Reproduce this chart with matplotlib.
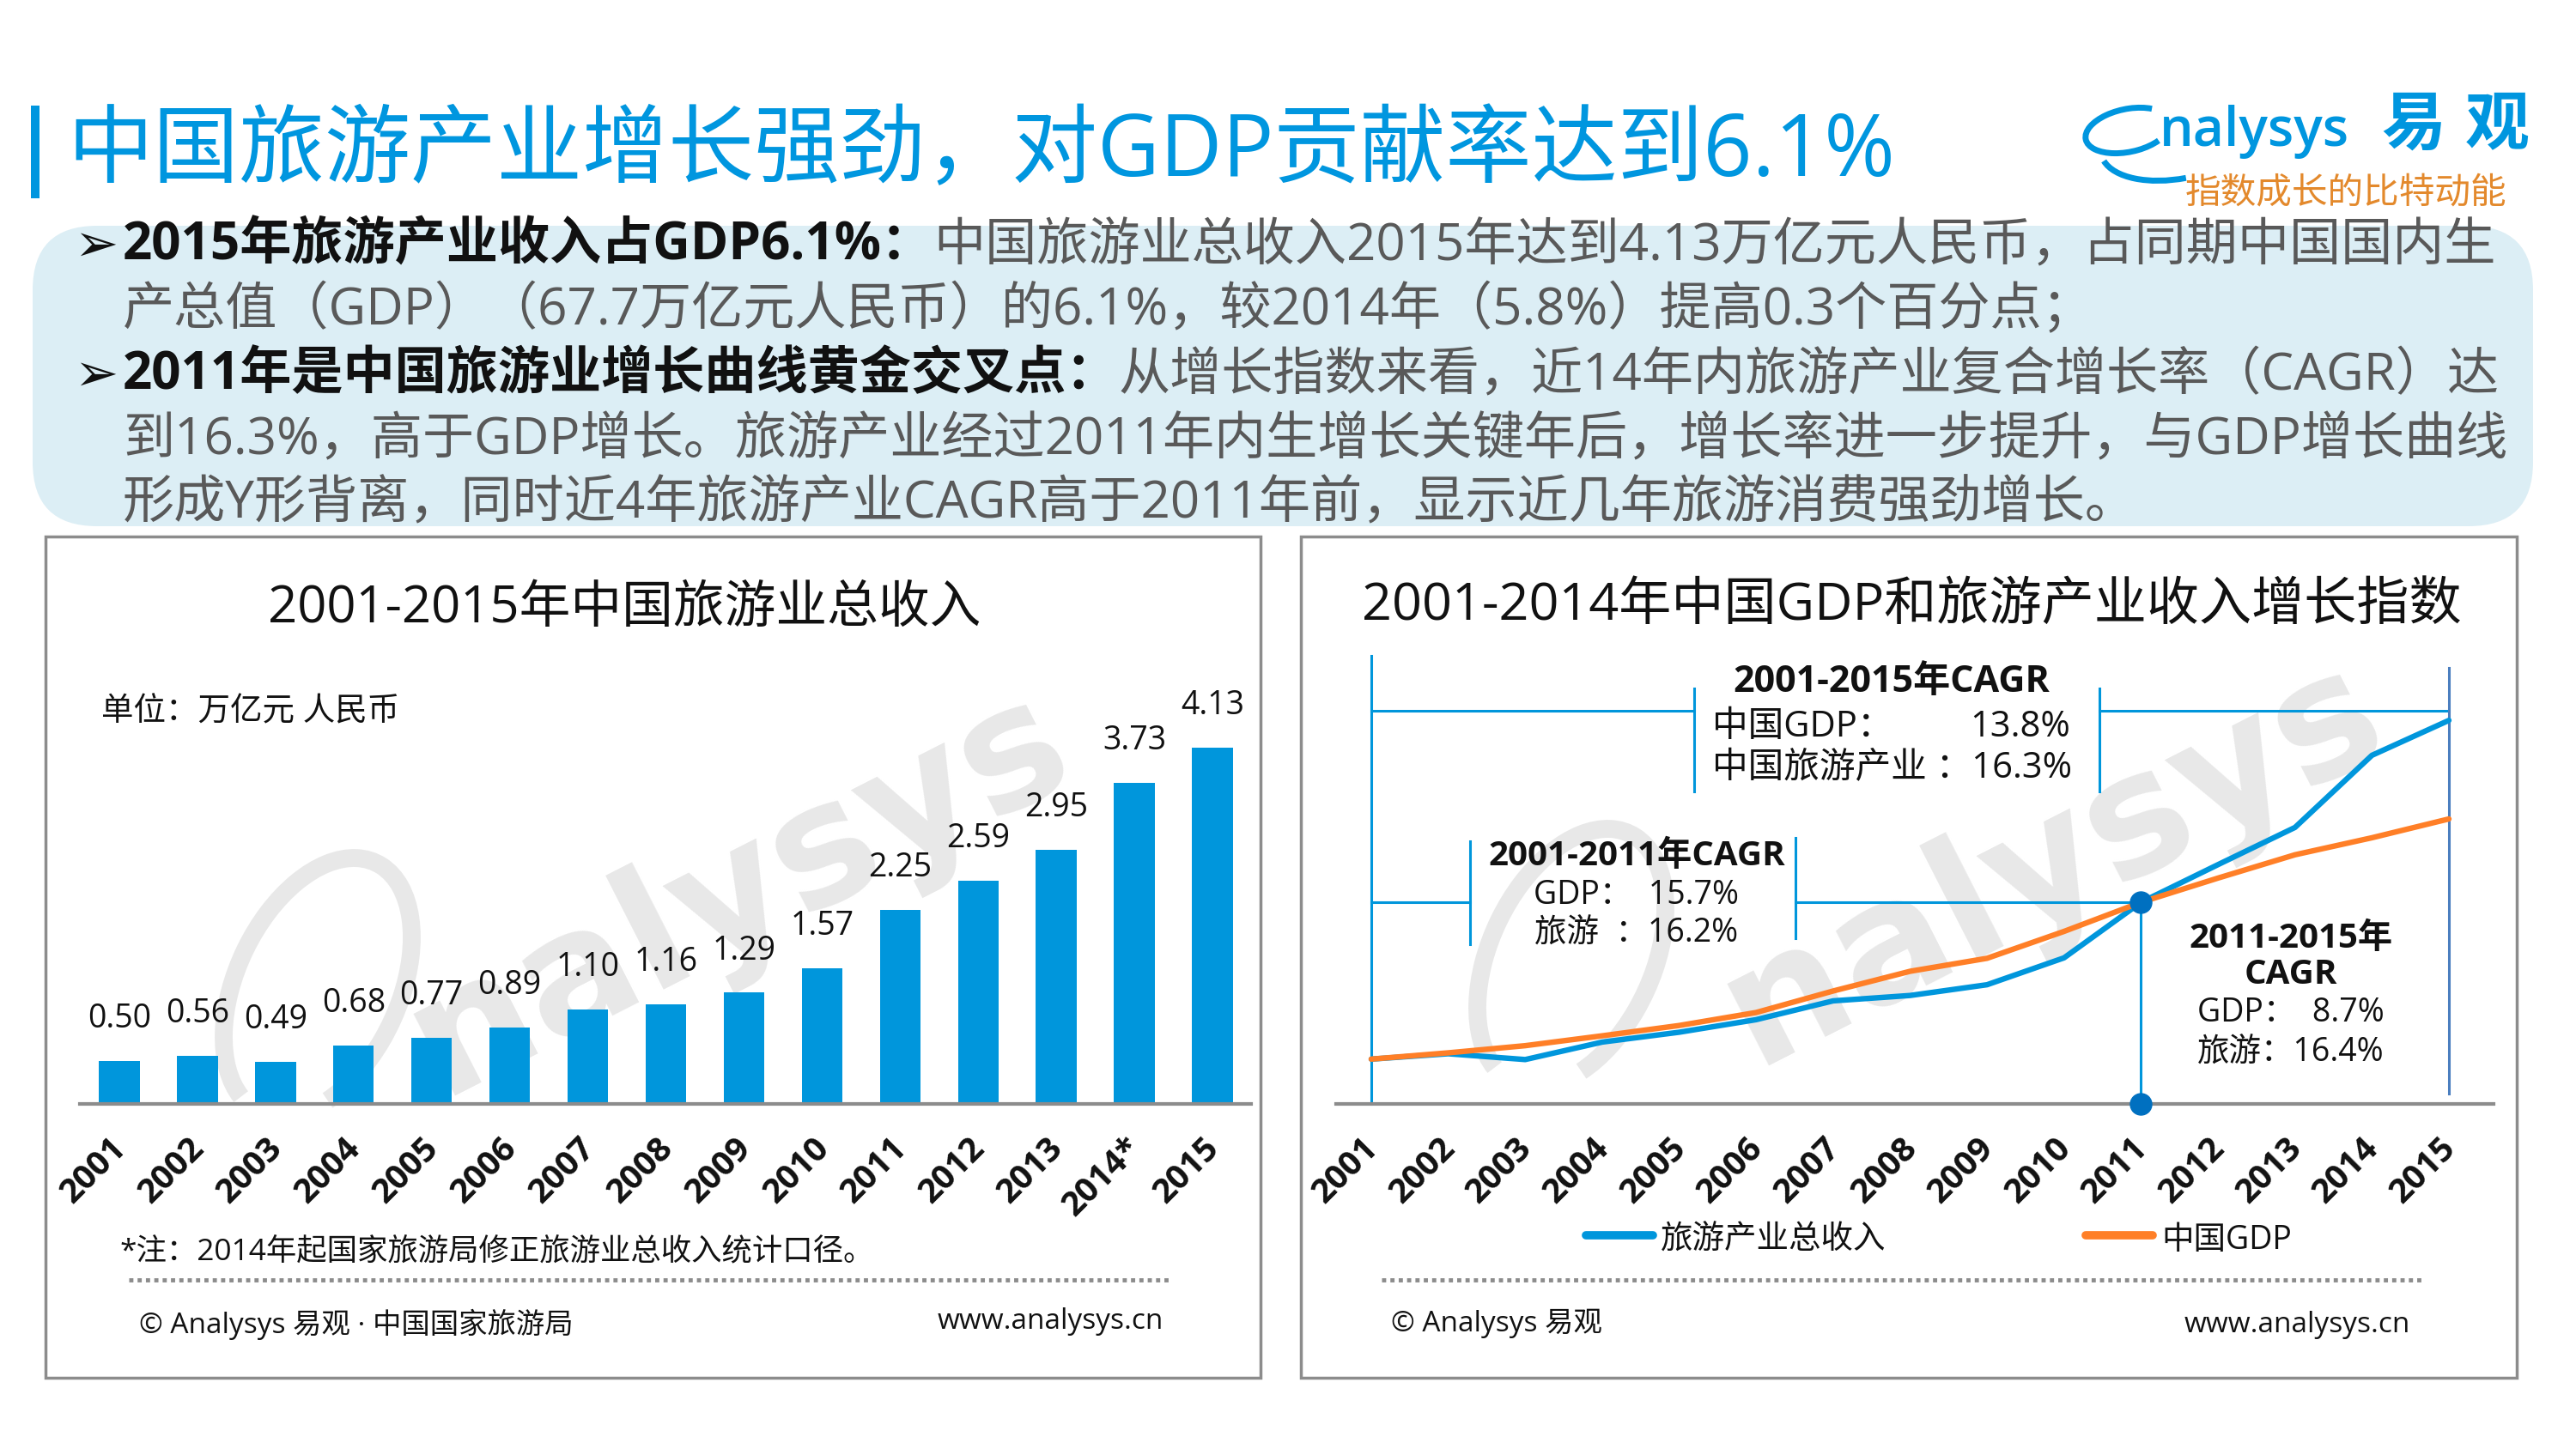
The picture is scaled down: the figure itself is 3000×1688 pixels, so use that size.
import matplotlib
matplotlib.use('Agg')
import matplotlib.pyplot as plt
from matplotlib import font_manager
from matplotlib.patches import FancyBboxPatch, Arc, Rectangle
from matplotlib.lines import Line2D
from matplotlib.transforms import ScaledTranslation

# ---------------- data ----------------
bar_years = ['2001', '2002', '2003', '2004', '2005', '2006', '2007', '2008',
             '2009', '2010', '2011', '2012', '2013', '2014*', '2015']
revenue = [0.50, 0.56, 0.49, 0.68, 0.77, 0.89, 1.10, 1.16, 1.29, 1.57,
           2.25, 2.59, 2.95, 3.73, 4.13]
revenue_labels = ['0.50', '0.56', '0.49', '0.68', '0.77', '0.89', '1.10', '1.16',
                  '1.29', '1.57', '2.25', '2.59', '2.95', '3.73', '4.13']

idx_years = [2001, 2002, 2003, 2004, 2005, 2006, 2007, 2008,
             2009, 2010, 2011, 2012, 2013, 2014, 2015]
idx_labels = [str(y) for y in idx_years]
tourism_idx = [1.00, 1.12, 0.99, 1.38, 1.60, 1.88, 2.30, 2.42, 2.66, 3.26,
               4.50, 5.34, 6.17, 7.78, 8.56]
gdp_idx = [1.00, 1.14, 1.30, 1.52, 1.75, 2.04, 2.52, 2.96, 3.25, 3.85,
           4.50, 5.04, 5.56, 5.94, 6.36]

series_names = ['旅游产业总收入', '中国GDP']

# ---------------- style ----------------
W, H = 3000, 1688
BLUE = '#0096DC'
ORANGE = '#FF7F27'
GRAY = '#8C8C8C'
DARK = '#111111'
BODY = '#595959'
LATIN_CJK = ['Open Sans', 'Noto Sans CJK SC', 'DejaVu Sans']
plt.rcParams['font.family'] = LATIN_CJK

_names = {f.name for f in font_manager.fontManager.ttflist}
WM_FONT = 'DejaVu Sans'
for cand in ['Liberation Sans Narrow', 'DejaVu Sans Condensed']:
    if cand in _names:
        WM_FONT = cand
        break

fig = plt.figure(figsize=(30, 16.88), dpi=100)
bg = fig.add_axes([0, 0, 1, 1])
bg.set_xlim(0, W)
bg.set_ylim(H, 0)
bg.axis('off')

# ---------------- title ----------------
bg.add_patch(Rectangle((36, 123), 10, 108, color='#0096DF', lw=0))
bg.text(78, 179, '中国旅游产业增长强劲，对GDP贡献率达到6.1%', fontsize=72,
        color='#0096DF', va='center', ha='left')

# ---------------- logo ----------------
bg.add_patch(Arc((2478, 152), 100, 50, angle=-12, theta1=30, theta2=330,
                 color='#0096DF', lw=5))
bg.add_patch(Arc((2540, 160), 190, 95, angle=-12, theta1=95, theta2=175,
                 color='#0096DF', lw=5))
bg.text(2515, 170, 'nalysys', fontsize=45, color='#0096DF', fontweight='semibold',
        ha='left', va='baseline')
bg.text(2773, 148, '易', fontsize=54, color='#0096DF', fontweight='heavy',
        ha='left', va='center')
bg.text(2871, 148, '观', fontsize=54, color='#0096DF', fontweight='heavy',
        ha='left', va='center')
bg.text(2545, 225, '指数成长的比特动能', fontsize=30, color='#E3892C',
        ha='left', va='center')

# ---------------- text box ----------------
bg.add_patch(FancyBboxPatch((38, 263), 2912, 350,
                            boxstyle='round,pad=0,rounding_size=75',
                            fc='#DCEEF5', ec='none'))
BFS = 43.3
renderer = fig.canvas.get_renderer()
lines = [
    (287, '2015年旅游产业收入占GDP6.1%：', '中国旅游业总收入2015年达到4.13万亿元人民币，占同期中国国内生', True),
    (362, '', '产总值（GDP）（67.7万亿元人民币）的6.1%，较2014年（5.8%）提高0.3个百分点；', False),
    (438, '2011年是中国旅游业增长曲线黄金交叉点：', '从增长指数来看，近14年内旅游产业复合增长率（CAGR）达', True),
    (513, '', '到16.3%，高于GDP增长。旅游产业经过2011年内生增长关键年后，增长率进一步提升，与GDP增长曲线', False),
    (587, '', '形成Y形背离，同时近4年旅游产业CAGR高于2011年前，显示近几年旅游消费强劲增长。', False),
]
for y, bold, reg, bullet in lines:
    x = 143
    if bullet:
        bg.text(86, y, '➢', fontsize=44, color=DARK, va='center', ha='left',
                family=['DejaVu Sans'])
    if bold:
        t = bg.text(x, y, bold, fontsize=BFS, fontweight='bold', color=DARK,
                    va='center', ha='left')
        bb = t.get_window_extent(renderer)
        x = bb.x1
    bg.text(x, y, reg, fontsize=BFS, color=BODY, va='center', ha='left')

# ---------------- panels ----------------
for (x0, x1) in [(53, 1468), (1515, 2931)]:
    bg.add_patch(Rectangle((x0, 625), x1 - x0, 980, fc='none', ec=GRAY, lw=2.5))

# watermarks
WM = '#E8E8E8'
for (cx, cy, ex, ey) in [(860, 1040, 370, 1150), (2390, 1005, 1830, 1116)]:
    bg.text(cx, cy, 'nalysys', fontsize=142, color=WM, rotation=27,
            ha='center', va='center', fontweight='bold', family=[WM_FONT],
            zorder=0.5)
    bg.add_patch(Arc((ex, ey), 320, 190, angle=-65, theta1=190, theta2=510,
                     color=WM, lw=15, zorder=0.5))

# panel texts (left)
bg.text(727, 709, '2001-2015年中国旅游业总收入', fontsize=43, color=DARK,
        ha='center', va='center')
bg.text(118, 829, '单位：万亿元 人民币', fontsize=27, color=DARK, ha='left', va='center')
bg.text(139, 1459, '*注：2014年起国家旅游局修正旅游业总收入统计口径。', fontsize=25.5,
        color=DARK, ha='left', va='center')
bg.add_line(Line2D([150, 1362], [1490.5, 1490.5], color=GRAY, lw=3.5,
                   linestyle=(0, (1, 1))))
bg.text(162, 1543, '© Analysys 易观 · 中国国家旅游局', fontsize=24, color=DARK,
        ha='left', va='center')
bg.text(1355, 1540, 'www.analysys.cn', fontsize=24, color=DARK, ha='right', va='center')

# panel texts (right)
bg.text(2226, 706, '2001-2014年中国GDP和旅游产业收入增长指数', fontsize=44, color=DARK,
        ha='center', va='center')
bg.add_line(Line2D([1609, 2821], [1490.5, 1490.5], color=GRAY, lw=3.5,
                   linestyle=(0, (1, 1))))
bg.text(1620, 1542, '© Analysys 易观', fontsize=24, color=DARK, ha='left', va='center')
bg.text(2807, 1543, 'www.analysys.cn', fontsize=24, color=DARK, ha='right', va='center')

# legend
bg.add_line(Line2D([1847, 1925], [1439, 1439], color=BLUE, lw=7, solid_capstyle='round'))
bg.text(1934, 1445, series_names[0], fontsize=27, color=DARK, ha='left', va='center')
bg.add_line(Line2D([2429, 2507], [1439, 1439], color=ORANGE, lw=7, solid_capstyle='round'))
bg.text(2517, 1445, series_names[1], fontsize=27, color=DARK, ha='left', va='center')

# CAGR annotations (text)
bg.text(2203, 795, '2001-2015年CAGR', fontsize=31, fontweight='bold', color=DARK,
        ha='center', va='center')
bg.text(1994, 847, '中国GDP：', fontsize=30, color=DARK, ha='left', va='center')
bg.text(2411, 847, '13.8%', fontsize=30, color=DARK, ha='right', va='center')
bg.text(1994, 895, '中国旅游产业 ：16.3%', fontsize=30, color=DARK, ha='left', va='center')

bg.text(1906, 998, '2001-2011年CAGR', fontsize=29, fontweight='bold', color=DARK,
        ha='center', va='center')
bg.text(1905, 1043, 'GDP：  15.7%', fontsize=27, color=DARK, ha='center', va='center')
bg.text(1906, 1088, '旅游  ：16.2%', fontsize=27, color=DARK, ha='center', va='center')

bg.text(2668, 1093, '2011-2015年', fontsize=29, fontweight='bold', color=DARK,
        ha='center', va='center')
bg.text(2668, 1136, 'CAGR', fontsize=29, fontweight='bold', color=DARK,
        ha='center', va='center')
bg.text(2668, 1180, 'GDP：  8.7%', fontsize=27, color=DARK, ha='center', va='center')
bg.text(2668, 1227, '旅游：16.4%', fontsize=27, color=DARK, ha='center', va='center')


def style_xaxis(ax, labels, dx_px=2):
    for s in ['top', 'left', 'right']:
        ax.spines[s].set_visible(False)
    ax.spines['bottom'].set_color(GRAY)
    ax.spines['bottom'].set_linewidth(3)
    ax.set_yticks([])
    ax.tick_params(axis='x', length=0, pad=33)
    ax.set_facecolor('none')
    ax.set_xticklabels(labels, rotation=45, ha='right', va='center',
                       rotation_mode='anchor', fontsize=28.5, fontweight='bold',
                       color=DARK)
    off = ScaledTranslation(dx_px / 100, 0, fig.dpi_scale_trans)
    for lab in ax.get_xticklabels():
        lab.set_transform(lab.get_transform() + off)


# ---------------- left chart ----------------
ax1 = fig.add_axes([93 / W, (H - 1286) / H, 1364 / W, 461.8 / H])
xpos = list(range(len(bar_years)))
ax1.bar(xpos, revenue, width=0.52, color=BLUE, zorder=2)
ax1.set_xlim(-0.506, 14.495)
ax1.set_ylim(0, 4.6)
ax1.set_xticks(xpos)
style_xaxis(ax1, bar_years)
for i, (v, lab) in enumerate(zip(revenue, revenue_labels)):
    ax1.annotate(lab, (i, v), xytext=(0, 28), textcoords='offset points',
                 ha='center', va='baseline', fontsize=27, color=DARK)

# ---------------- right chart ----------------
ax2 = fig.add_axes([1556 / W, (H - 1286) / H, 1348 / W, 522 / H])
ax2.set_xlim(2000.543, 2015.58)
ax2.set_ylim(0, 10)
ax2.set_xticks(idx_years)
style_xaxis(ax2, idx_labels)
ax2.plot(idx_years, tourism_idx, color=BLUE, lw=4.6, solid_capstyle='round',
         solid_joinstyle='round', zorder=3)
ax2.plot(idx_years, gdp_idx, color=ORANGE, lw=4.6, solid_capstyle='round',
         solid_joinstyle='round', zorder=4)

ALC = '#0096DB'
ALW = 2.2
def aline(xs, ys, color=ALC, lw=ALW):
    ax2.plot(xs, ys, color=color, lw=lw, clip_on=False, zorder=2)

y11 = tourism_idx[10]
aline([2001, 2001], [0, 10.0])
aline([2001, 2005.195], [8.77, 8.77])
aline([2005.195, 2005.195], [6.97, 9.27])
aline([2010.46, 2010.46], [6.97, 9.27])
aline([2010.46, 2015.0], [8.77, 8.77])
aline([2015.0, 2015.0], [0.23, 9.73], color='#4A7EBF')
aline([2001, 2002.28], [y11, y11])
aline([2002.28, 2002.28], [3.56, 5.86])
aline([2006.51, 2006.51], [3.70, 5.94])
aline([2006.51, 2011], [y11, y11])
aline([2011, 2011], [0, y11])
ax2.plot([2011, 2011], [y11, 0], 'o', color='#0070C0', markersize=18,
         clip_on=False, zorder=6)

fig.savefig('out.png', dpi=100, facecolor='white')
